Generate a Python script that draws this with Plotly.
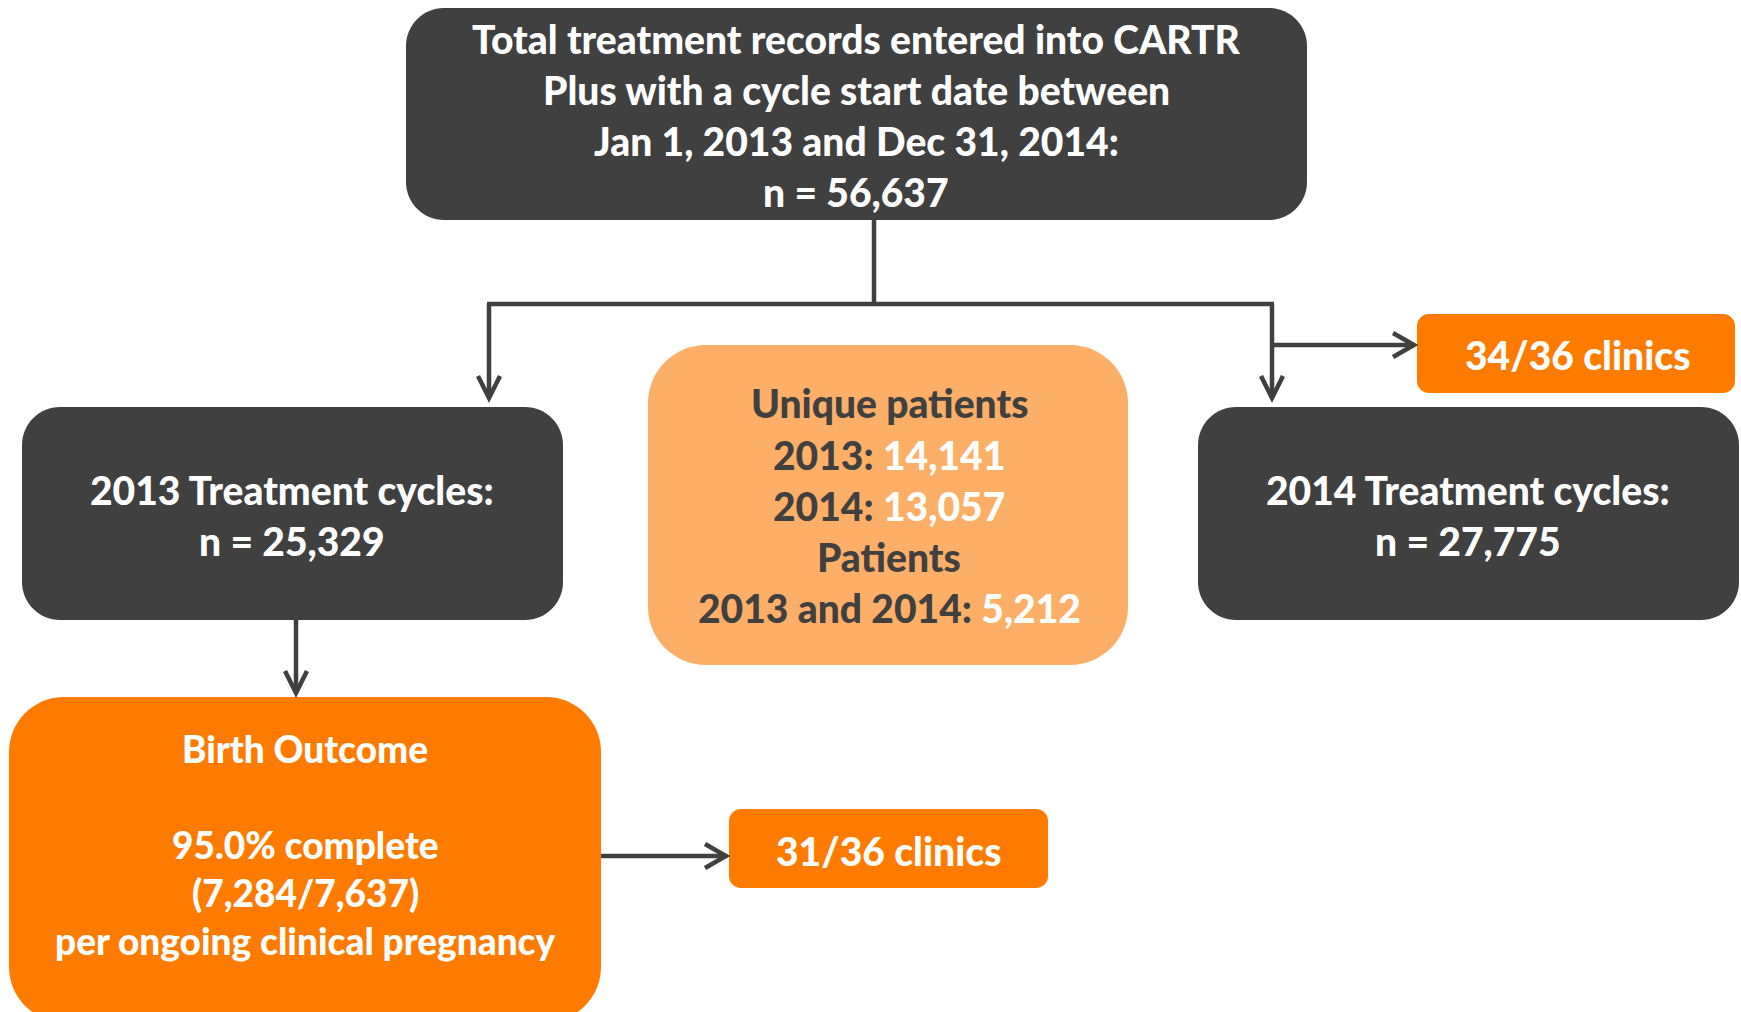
import plotly.graph_objects as go

# ---------------- data ----------------
top_lines = ["Total treatment records entered into CARTR",
             "Plus with a cycle start date between",
             "Jan 1, 2013 and Dec 31, 2014:"]
total_records = 56637
years = ["2013", "2014"]
treatment_cycles = [25329, 27775]
unique_patients = [14141, 13057]
patients_both_years = 5212
clinics_2014 = [34, 36]
clinics_birth = [31, 36]
birth_pct = 95.0
birth_counts = [7284, 7637]

# ---------------- styles ----------------
DARK = "#404040"
ORANGE = "#FF7B00"
LIGHT = "#FDAF68"
WHITE = "#FFFFFF"
FONT = "Lato"
FS = 39
W, H = 1741, 1012

def fmt(n):
    return f"{n:,}"

def rrect(x0, y0, x1, y1, r):
    k = 0.5523 * r
    return (f"M{x0+r},{y0} L{x1-r},{y0} C{x1-r+k},{y0} {x1},{y0+r-k} {x1},{y0+r} "
            f"L{x1},{y1-r} C{x1},{y1-r+k} {x1-r+k},{y1} {x1-r},{y1} "
            f"L{x0+r},{y1} C{x0+r-k},{y1} {x0},{y1-r+k} {x0},{y1-r} "
            f"L{x0},{y0+r} C{x0},{y0+r-k} {x0+r-k},{y0} {x0+r},{y0} Z")

# layout geometry (pixels)
boxes = {
    "top":    dict(x0=406, y0=8, x1=1307, y1=220, r=38, fill=DARK),
    "c2013":  dict(x0=22, y0=407, x1=563, y1=620, r=38, fill=DARK),
    "unique": dict(x0=648, y0=345, x1=1128, y1=665, r=58, fill=LIGHT),
    "c2014":  dict(x0=1198, y0=407, x1=1739, y1=620, r=38, fill=DARK),
    "cl34":   dict(x0=1417, y0=314, x1=1735, y1=393, r=12, fill=ORANGE),
    "birth":  dict(x0=9, y0=697, x1=601, y1=1022, r=55, fill=ORANGE),
    "cl31":   dict(x0=729, y0=809, x1=1048, y1=888, r=12, fill=ORANGE),
}

shapes = []
for b in boxes.values():
    shapes.append(dict(type="path", path=rrect(b["x0"], b["y0"], b["x1"], b["y1"], b["r"]),
                       fillcolor=b["fill"], line=dict(width=0), layer="below"))

LW = 4.5
segments = [
    ((874, 220), (874, 304)),
    ((487, 304), (1274, 304)),
    ((489, 304), (489, 398)),
    ((1272, 304), (1272, 398)),
    ((1272, 345), (1414, 345)),
    ((296, 620), (296, 693)),
    ((601, 856), (726, 856)),
]
for (xa, ya), (xb, yb) in segments:
    shapes.append(dict(type="line", x0=xa, y0=ya, x1=xb, y1=yb,
                       line=dict(color=DARK, width=LW)))

def chevron(x, y, direction):
    if direction == "down":
        p = f"M{x-11},{y-22} L{x},{y} L{x+11},{y-22}"
    else:
        p = f"M{x-21},{y-12} L{x},{y} L{x-21},{y+12}"
    return dict(type="path", path=p, line=dict(color=DARK, width=LW))

shapes += [chevron(489, 398, "down"), chevron(1272, 398, "down"),
           chevron(296, 693, "down"), chevron(1414, 345, "right"),
           chevron(726, 856, "right")]

annotations = []
def txt(x, y, s, color=WHITE, size=FS):
    annotations.append(dict(x=x, y=y, text=s, showarrow=False,
                            xanchor="center", yanchor="middle",
                            font=dict(family=FONT, size=size, color=color, weight=900)))

# top box
for i, line in enumerate(top_lines + [f"n = {fmt(total_records)}"]):
    txt(856, 39 + 51 * i, line)

# treatment cycles boxes
txt(292, 490, f"{years[0]} Treatment cycles:")
txt(292, 541, f"n = {fmt(treatment_cycles[0])}")
txt(1468, 490, f"{years[1]} Treatment cycles:")
txt(1468, 541, f"n = {fmt(treatment_cycles[1])}")

# unique patients box
w = f"<span style='color:{WHITE}'>"
txt(889, 403, "Unique patients", DARK)
txt(889, 455, f"{years[0]}: {w}{fmt(unique_patients[0])}</span>", DARK)
txt(889, 506, f"{years[1]}: {w}{fmt(unique_patients[1])}</span>", DARK)
txt(889, 557, "Patients", DARK)
txt(889, 608, f"{years[0]} and {years[1]}: {w}{fmt(patients_both_years)}</span>", DARK)

# clinics boxes
txt(1577, 355, f"{clinics_2014[0]}/{clinics_2014[1]} clinics")
txt(888, 851, f"{clinics_birth[0]}/{clinics_birth[1]} clinics")

# birth outcome box
BS = 37
txt(305, 748, "Birth Outcome", size=BS)
txt(305, 844, f"{birth_pct:.1f}% complete", size=BS)
txt(305, 892, f"({fmt(birth_counts[0])}/{fmt(birth_counts[1])})", size=BS)
txt(305, 940, "per ongoing clinical pregnancy", size=BS)

fig = go.Figure()
fig.update_layout(
    width=W, height=H, margin=dict(l=0, r=0, t=0, b=0),
    paper_bgcolor="white", plot_bgcolor="white",
    xaxis=dict(range=[0, W], visible=False, fixedrange=True),
    yaxis=dict(range=[H, 0], visible=False, fixedrange=True),
    shapes=shapes, annotations=annotations, showlegend=False,
)
fig.write_html("out.html", config={"displayModeBar": False},
               post_script="document.body.style.margin='0';document.body.style.overflow='hidden';")
